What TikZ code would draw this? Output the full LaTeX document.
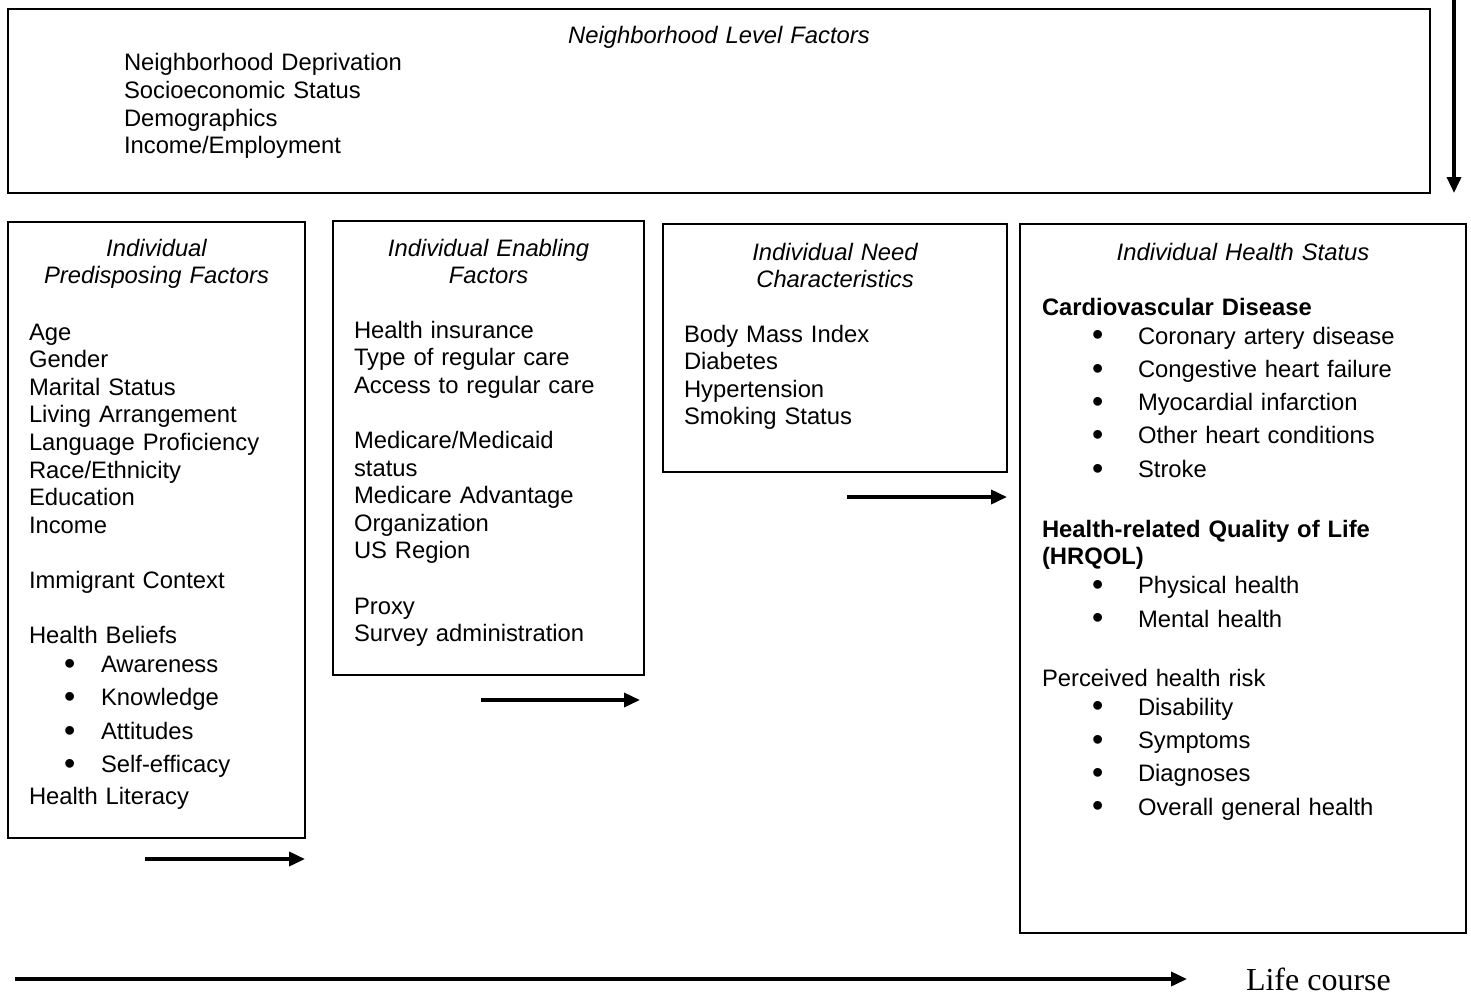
\documentclass[tikz,border=0pt]{standalone}
\usepackage{fontspec}
\usepackage{graphicx}
\setmainfont{Liberation Sans}
\newfontfamily\lifefont{Liberation Serif}
\usetikzlibrary{positioning, arrows.meta, calc}

% bullet lines for the two list widths
\newcommand{\dotb}{\raisebox{-0.15ex}{\scalebox{1.35}{\textbullet}}}
\newcommand{\blt}[1]{\makebox[36pt][l]{\hspace{17.6pt}\dotb}#1}
\newcommand{\bltw}[1]{\makebox[48pt][l]{\hspace{25pt}\dotb}#1}

\begin{document}
\begin{tikzpicture}[
    x=0.5pt, y=-0.5pt,
    every node/.style={font=\fontsize{11.9}{13.8}\selectfont, inner sep=0pt, outer sep=0pt},
    box/.style={draw, line width=1.1pt, anchor=north west},
    title/.style={anchor=base, align=center, text width=#1, font=\fontsize{11.9}{13.8}\selectfont\itshape},
    title/.default=140pt,
    body/.style={anchor=base west, align=left, text width=#1},
    body/.default=150pt,
    arr/.style={-{Triangle[length=8pt, width=7pt]}, line width=1.8pt}
  ]
\useasboundingbox (0,0) rectangle (1471,995);

% boxes
\node[box, minimum width=711pt, minimum height=92pt]      (nbh)  at (8,9)     {};
\node[box, minimum width=148.5pt, minimum height=308pt]   (pre)  at (8,222)   {};
\node[box, minimum width=155.5pt, minimum height=227pt]   (ena)  at (333,221) {};
\node[box, minimum width=172pt, minimum height=124pt]     (need) at (663,224) {};
\node[box, minimum width=223pt, minimum height=354.5pt]   (hs)   at (1020,224) {};

% titles
\node[title=300pt] (nbh-t)  at ($(nbh.north)+(0,35)$)  {Neighborhood Level Factors};
\node[title]       (pre-t)  at ($(pre.north)+(0,34)$)  {Individual\\Predisposing Factors};
\node[title]       (ena-t)  at ($(ena.north)+(0,35)$)  {Individual Enabling\\Factors};
\node[title=160pt] (need-t) at ($(need.north)+(0,36)$) {Individual Need\\Characteristics};
\node[title=200pt] (hs-t)   at ($(hs.north)+(0,36)$)   {Individual Health Status};

% contents
\node[body=300pt] (nbh-b) at (124,71) {Neighborhood Deprivation\\Socioeconomic Status\\Demographics\\Income/Employment};

\node[body] (pre-b) at (29,340) {Age\\Gender\\Marital Status\\Living Arrangement\\Language Proficiency\\Race/Ethnicity\\Education\\Income\\[13.8pt]
  Immigrant Context\\[13.8pt]
  Health Beliefs\\[0.7pt]
  \blt{Awareness}\\[2.85pt]
  \blt{Knowledge}\\[2.85pt]
  \blt{Attitudes}\\[2.85pt]
  \blt{Self-efficacy}\\[2.2pt]
  Health Literacy};

\node[body] (ena-b) at (354,338) {Health insurance\\Type of regular care\\Access to regular care\\[13.8pt]
  Medicare/Medicaid\\status\\Medicare Advantage\\Organization\\US Region\\[13.8pt]
  Proxy\\Survey administration};

\node[body] (need-b) at (684,342) {Body Mass Index\\Diabetes\\Hypertension\\Smoking Status};

\node[body=200pt] (hs-b) at (1042,315) {\textbf{Cardiovascular Disease}\\[0.7pt]
  \bltw{Coronary artery disease}\\[2.85pt]
  \bltw{Congestive heart failure}\\[2.85pt]
  \bltw{Myocardial infarction}\\[2.85pt]
  \bltw{Other heart conditions}\\[2.85pt]
  \bltw{Stroke}\\[16.2pt]
  \textbf{Health-related Quality of Life}\\
  \textbf{(HRQOL)}\\[0.7pt]
  \bltw{Physical health}\\[2.85pt]
  \bltw{Mental health}\\[15.7pt]
  Perceived health risk\\[0.7pt]
  \bltw{Disability}\\[2.85pt]
  \bltw{Symptoms}\\[2.85pt]
  \bltw{Diagnoses}\\[2.85pt]
  \bltw{Overall general health}};

\node[anchor=base west, font=\lifefont\fontsize{16}{19}\selectfont] (life) at (1246,990) {Life course};

% arrows
\coordinate (top) at (1454,0);
\draw[arr] (top) -- (top |- nbh.south);

\coordinate (p1) at ($(pre.south east)+(-160,21)$);
\draw[arr] (p1) -- (p1 -| pre.east);
\coordinate (e1) at ($(ena.south east)+(-163,25)$);
\draw[arr] (e1) -- ($(e1 -| ena.east)+(-4,0)$);
\coordinate (n1) at ($(need.south east)+(-160,25)$);
\draw[arr] (n1) -- (n1 -| need.east);

\coordinate (lc) at (15,979);
\draw[arr] (lc) -- ($(lc -| life.west)+(-59,0)$);
\end{tikzpicture}
\end{document}
